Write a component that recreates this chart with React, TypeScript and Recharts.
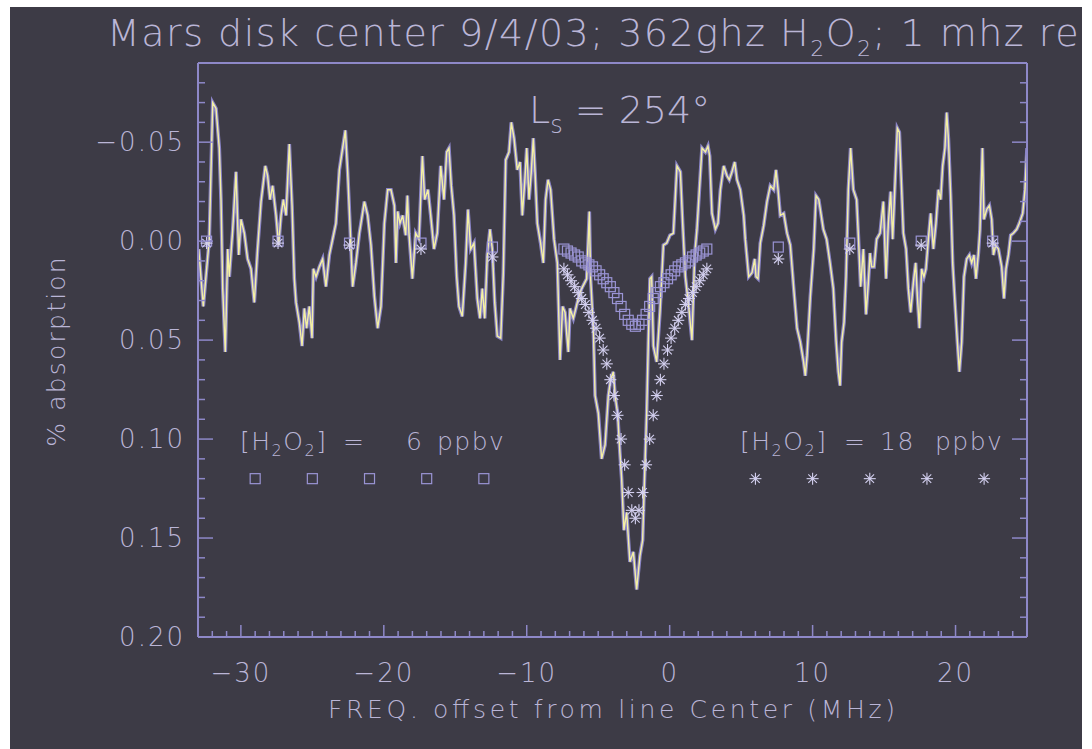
import React from "react";
import { ComposedChart, Line, Scatter, XAxis, YAxis } from "recharts";

const BG = "#3d3b46";
const AXIS = "#8e88c8";
const TEXT = "#bab5d6";
const YELLOW = "#f4f0a4";
const HALO = "#8a84c6";
const MARK = "#9a94d4";
const STAR = "#d4d0f0";
const FONT = "'DejaVu Sans', sans-serif";

// observed spectrum: frequency offset (MHz) and % absorption
const specFreq = [
  -32.95, -32.63, -32.21, -31.97, -31.74, -31.51, -31.39, -31.27, -31.09, -30.92,
  -30.81, -30.57, -30.34, -30.15, -29.99, -29.76, -29.53, -29.29, -29.06, -28.83,
  -28.59, -28.29, -28.13, -27.96, -27.78, -27.54, -27.36, -27.19, -27.03, -26.84,
  -26.61, -26.42, -26.26, -26.14, -25.91, -25.72, -25.56, -25.4, -25.21, -25.02,
  -24.93, -24.74, -24.51, -24.28, -24.05, -23.81, -23.58, -23.35, -23.11, -22.88,
  -22.69, -22.53, -22.37, -22.18, -21.95, -21.71, -21.36, -21.13, -20.9, -20.66,
  -20.43, -20.2, -19.96, -19.73, -19.5, -19.26, -19.15, -19.03, -18.87, -18.68,
  -18.47, -18.35, -18.24, -18.0, -17.77, -17.54, -17.3, -17.14, -16.91, -16.72,
  -16.49, -16.26, -16.02, -15.79, -15.6, -15.44, -15.28, -15.09, -14.9, -14.74,
  -14.51, -14.27, -14.11, -13.92, -13.69, -13.46, -13.27, -13.11, -12.94, -12.76,
  -12.57, -12.41, -12.24, -12.06, -11.82, -11.64, -11.47, -11.24, -11.08, -10.89,
  -10.66, -10.47, -10.31, -10.14, -10.0, -9.84, -9.68, -9.54, -9.42, -9.26,
  -9.03, -8.84, -8.68, -8.51, -8.33, -8.09, -7.86, -7.67, -7.49, -7.32,
  -7.21, -7.09, -6.97, -6.74, -6.39, -6.16, -5.81, -5.62, -5.53, -5.34,
  -5.22, -4.99, -4.76, -4.52, -4.29, -4.13, -3.94, -3.82, -3.64, -3.48,
  -3.36, -3.2, -3.01, -2.78, -2.54, -2.31, -2.08, -1.89, -1.8, -1.61,
  -1.49, -1.38, -1.26, -1.14, -0.91, -0.68, -0.44, -0.21, 0.02, 0.26,
  0.51, 0.75, 0.91, 1.1, 1.33, 1.56, 1.75, 1.91, 2.08, 2.26,
  2.5, 2.68, 2.8, 2.96, 3.2, 3.38, 3.55, 3.78, 4.01, 4.17,
  4.36, 4.55, 4.71, 4.94, 5.18, 5.29, 5.53, 5.76, 5.95, 6.04,
  6.18, 6.34, 6.58, 6.81, 7.04, 7.28, 7.44, 7.58, 7.74, 7.98,
  8.21, 8.44, 8.68, 8.91, 9.14, 9.37, 9.49, 9.61, 9.84, 10.08,
  10.24, 10.43, 10.75, 10.98, 11.22, 11.45, 11.64, 11.8, 11.92, 12.03,
  12.2, 12.34, 12.5, 12.66, 12.85, 13.08, 13.2, 13.36, 13.55, 13.74,
  13.9, 14.02, 14.13, 14.3, 14.48, 14.72, 14.95, 15.14, 15.3, 15.46,
  15.6, 15.93, 16.07, 16.23, 16.35, 16.54, 16.7, 16.86, 17.05, 17.21,
  17.33, 17.47, 17.63, 17.79, 17.93, 18.1, 18.26, 18.45, 18.63, 18.8,
  18.96, 19.1, 19.26, 19.38, 19.5, 19.66, 19.8, 19.96, 20.13, 20.27,
  20.43, 20.59, 20.78, 20.97, 21.13, 21.29, 21.43, 21.6, 21.71, 21.88,
  21.99, 22.18, 22.37, 22.53, 22.65, 22.81, 23.0, 23.23, 23.39, 23.53,
  23.7, 23.86, 24.04, 24.28, 24.46, 24.7, 24.86, 25.0,
];
const specAbs = [
  0.004, 0.033, -0.001, -0.07, -0.067, -0.047, -0.021, 0.024, 0.056, 0.004,
  0.018, -0.006, -0.035, 0.007, -0.011, -0.004, 0.009, 0.014, 0.031, 0.004,
  -0.02, -0.038, -0.033, -0.021, -0.028, -0.013, 0.002, -0.013, -0.021, -0.013,
  -0.049, -0.018, 0.019, 0.031, 0.041, 0.053, 0.034, 0.044, 0.033, 0.049,
  0.014, 0.018, 0.013, 0.009, 0.023, 0.007, -0.001, -0.009, -0.036, -0.047,
  -0.056, -0.035, -0.009, 0.023, 0.011, -0.004, -0.02, -0.013, 0.002, 0.028,
  0.044, 0.033, -0.009, -0.026, -0.026, -0.018, 0.011, -0.015, -0.009, -0.013,
  -0.003, -0.023, -0.004, 0.019, -0.004, -0.001, -0.043, -0.021, -0.026, -0.013,
  0.004, -0.004, -0.038, -0.021, -0.045, -0.047, -0.028, -0.013, 0.018, 0.033,
  0.038, 0.011, -0.016, 0.004, 0.001, 0.029, 0.039, 0.024, 0.039, 0.007,
  -0.006, 0.004, 0.031, 0.048, 0.049, 0.016, -0.041, -0.045, -0.06, -0.052,
  -0.036, -0.04, -0.013, -0.03, -0.047, -0.021, -0.035, -0.052, -0.035, -0.009,
  0.001, 0.011, -0.021, -0.031, -0.026, -0.001, 0.011, 0.06, 0.033, 0.036,
  0.046, 0.056, 0.034, 0.039, 0.029, 0.024, 0.019, -0.015, 0.019, 0.044,
  0.078, 0.087, 0.11, 0.103, 0.078, 0.07, 0.066, 0.078, 0.087, 0.107,
  0.12, 0.146, 0.137, 0.162, 0.157, 0.176, 0.159, 0.151, 0.129, 0.087,
  0.05, 0.019, 0.018, 0.053, 0.061, 0.036, 0.002, 0.001, -0.003, -0.004,
  -0.038, -0.035, -0.009, 0.018, 0.033, 0.05, 0.007, -0.006, -0.026, -0.047,
  -0.045, -0.048, -0.043, -0.014, -0.006, -0.009, -0.026, -0.038, -0.033, -0.031,
  -0.035, -0.04, -0.031, -0.026, -0.013, -0.001, 0.018, 0.016, 0.009, 0.018,
  0.019, 0.001, -0.008, -0.02, -0.028, -0.026, -0.036, -0.026, -0.013, -0.014,
  -0.004, 0.002, 0.024, 0.044, 0.051, 0.061, 0.068, 0.058, 0.028, 0.004,
  -0.023, -0.021, -0.006, -0.001, 0.011, 0.024, 0.05, 0.066, 0.073, 0.051,
  0.041, 0.018, -0.026, -0.047, -0.026, -0.021, -0.003, 0.023, 0.004, 0.037,
  0.021, 0.006, 0.013, 0.013, -0.001, -0.004, -0.02, 0.019, -0.009, -0.025,
  -0.001, -0.057, -0.055, -0.026, -0.004, 0.004, 0.024, 0.036, 0.021, 0.011,
  0.028, 0.044, 0.014, 0.018, 0.014, -0.001, -0.014, 0.004, -0.009, -0.026,
  -0.021, -0.038, -0.047, -0.065, -0.052, -0.023, 0.011, 0.031, 0.051, 0.066,
  0.051, 0.018, 0.009, 0.007, 0.011, 0.007, 0.019, 0.006, -0.006, -0.047,
  -0.011, -0.016, -0.018, -0.011, 0.007, 0.002, 0.004, 0.013, 0.029, 0.014,
  0.007, -0.003, -0.004, -0.006, -0.009, -0.014, -0.026, -0.047,
];

// model line profiles (grid shared by both abundances)
const modelFreq = [
  -32.4, -27.4, -22.4, -17.4, -12.4,
  -7.4, -7.15, -6.9, -6.65, -6.4, -6.15, -5.9, -5.65, -5.4, -5.15,
  -4.9, -4.65, -4.4, -4.15, -3.9, -3.65, -3.4, -3.15, -2.9, -2.65,
  -2.4,
  -2.15, -1.9, -1.65, -1.4, -1.15, -0.9, -0.65, -0.4, -0.15, 0.1,
  0.35, 0.6, 0.85, 1.1, 1.35, 1.6, 1.85, 2.1, 2.35, 2.6,
  7.6, 12.6, 17.6, 22.6,
];
const model18Abs = [
  0.001, 0.001, 0.002, 0.004, 0.008,
  0.014, 0.017, 0.02, 0.023, 0.026, 0.029, 0.032, 0.036, 0.04, 0.044,
  0.049, 0.055, 0.062, 0.07, 0.078, 0.088, 0.1, 0.113, 0.127, 0.136,
  0.14,
  0.136, 0.127, 0.113, 0.1, 0.088, 0.078, 0.07, 0.062, 0.055, 0.049,
  0.044, 0.04, 0.036, 0.032, 0.029, 0.026, 0.023, 0.02, 0.017, 0.014,
  0.009, 0.004, 0.002, 0.001,
];
const model6Abs = [
  0.0, 0.0, 0.001, 0.001, 0.003,
  0.004, 0.005, 0.006, 0.007, 0.008, 0.01, 0.011, 0.012, 0.013, 0.015,
  0.017, 0.019, 0.021, 0.023, 0.026, 0.029, 0.033, 0.037, 0.04, 0.042,
  0.043,
  0.042, 0.04, 0.037, 0.033, 0.029, 0.026, 0.023, 0.021, 0.019, 0.017,
  0.015, 0.013, 0.012, 0.011, 0.01, 0.008, 0.007, 0.006, 0.005, 0.004,
  0.003, 0.001, 0.0, 0.0,
];

// key symbols drawn in the plot under the legend text
const key6Freq = [-29, -25, -21, -17, -13];
const key18Freq = [6, 10, 14, 18, 22];
const keyLevel = 0.12;

const xTicks = [
  -32, -31, -30, -29, -28, -27, -26, -25, -24, -23, -22, -21, -20, -19, -18, -17,
  -16, -15, -14, -13, -12, -11, -10, -9, -8, -7, -6, -5, -4, -3, -2, -1, 0,
  1, 2, 3, 4, 5, 6, 7, 8, 9, 10, 11, 12, 13, 14, 15, 16, 17, 18, 19, 20,
  21, 22, 23, 24,
];
const xLabelTicks = [-30, -20, -10, 0, 10, 20];
const yTicks = [
  -0.08, -0.07, -0.06, -0.05, -0.04, -0.03, -0.02, -0.01, 0, 0.01, 0.02, 0.03,
  0.04, 0.05, 0.06, 0.07, 0.08, 0.09, 0.1, 0.11, 0.12, 0.13, 0.14, 0.15, 0.16,
  0.17, 0.18, 0.19, 0.2,
];
const yLabelTicks = [-0.05, 0, 0.05, 0.1, 0.15, 0.2];

const spectrum = specFreq.map((f, i) => ({ f, v: specAbs[i] }));
const model18 = modelFreq.map((f, i) => ({ f, v: model18Abs[i] }));
const model6 = modelFreq.map((f, i) => ({ f, v: model6Abs[i] }));
const key6 = key6Freq.map((f) => ({ f, v: keyLevel }));
const key18 = key18Freq.map((f) => ({ f, v: keyLevel }));

const W = 1072;
const H = 742;

const isMajorX = (v: number) => xLabelTicks.includes(v);
const isMajorY = (v: number) => yLabelTicks.some((t) => Math.abs(t - v) < 1e-9);
const minus = (v: number) => (v < 0 ? "\u2212" : "");

const tickText = {
  fill: TEXT,
  fontFamily: FONT,
  fontSize: 26,
  fontWeight: 200,
  letterSpacing: 2,
} as const;

function BottomTick({ x, y, payload }: any) {
  const major = isMajorX(payload.value);
  return (
    <g>
      <line x1={x} x2={x} y1={y} y2={y - (major ? 12 : 6)} stroke={AXIS} strokeWidth={1.5} />
      {major && (
        <text x={x} y={y + 45} textAnchor="middle" {...tickText}>
          {minus(payload.value) + Math.abs(payload.value)}
        </text>
      )}
    </g>
  );
}

function TopTick({ x, y, payload }: any) {
  const major = isMajorX(payload.value);
  return <line x1={x} x2={x} y1={y} y2={y + (major ? 12 : 6)} stroke={AXIS} strokeWidth={1.5} />;
}

function LeftTick({ x, y, payload }: any) {
  const major = isMajorY(payload.value);
  return (
    <g>
      <line x1={x} x2={x + (major ? 15 : 7)} y1={y} y2={y} stroke={AXIS} strokeWidth={1.5} />
      {major && (
        <text x={x - 13} y={y + 9} textAnchor="end" {...tickText}>
          {minus(payload.value) + Math.abs(payload.value).toFixed(2)}
        </text>
      )}
    </g>
  );
}

function RightTick({ x, y, payload }: any) {
  const major = isMajorY(payload.value);
  return <line x1={x} x2={x - (major ? 15 : 7)} y1={y} y2={y} stroke={AXIS} strokeWidth={1.5} />;
}

function Square({ cx, cy }: any) {
  return <rect x={cx - 5} y={cy - 5} width={10} height={10} fill="none" stroke={MARK} strokeWidth={1.2} />;
}

function Asterisk({ cx, cy }: any) {
  const r = 6;
  const d = 4.3;
  return (
    <g stroke={STAR} strokeWidth={1.1}>
      <line x1={cx - r} x2={cx + r} y1={cy} y2={cy} />
      <line x1={cx} x2={cx} y1={cy - r} y2={cy + r} />
      <line x1={cx - d} x2={cx + d} y1={cy - d} y2={cy + d} />
      <line x1={cx - d} x2={cx + d} y1={cy + d} y2={cy - d} />
    </g>
  );
}

const label = { fill: TEXT, fontFamily: FONT, fontWeight: 200 } as const;

function KeyLabel({ x, eqX, numX, num, unitX }: any) {
  return (
    <text y={443} fontSize={25} letterSpacing={1.5} {...label}>
      <tspan x={x}>[H</tspan>
      <tspan fontSize={16} dy={6}>2</tspan>
      <tspan dy={-6}>O</tspan>
      <tspan fontSize={16} dy={6}>2</tspan>
      <tspan dy={-6}>]</tspan>
      <tspan x={eqX}>=</tspan>
      <tspan x={numX}>{num}</tspan>
      <tspan x={unitX}>ppbv</tspan>
    </text>
  );
}

export default function App() {
  return (
    <div
      style={{
        position: "absolute",
        left: 10,
        top: 7,
        width: W,
        height: H,
        background: BG,
        overflow: "hidden",
      }}
    >
      <ComposedChart
        width={W}
        height={H}
        margin={{ top: 26, right: 5, bottom: 82, left: 128 }}
      >
        <XAxis
          dataKey="f"
          type="number"
          domain={[-33, 25]}
          allowDataOverflow
          ticks={xTicks}
          interval={0}
          height={30}
          tickSize={0}
          tickMargin={0}
          tickLine={false}
          tick={BottomTick}
          axisLine={{ stroke: AXIS, strokeWidth: 2 }}
        />
        <XAxis
          xAxisId="top"
          orientation="top"
          type="number"
          domain={[-33, 25]}
          allowDataOverflow
          ticks={xTicks}
          interval={0}
          height={30}
          tickSize={0}
          tickMargin={0}
          tickLine={false}
          tick={TopTick}
          axisLine={{ stroke: AXIS, strokeWidth: 2 }}
        />
        <YAxis
          dataKey="v"
          type="number"
          reversed
          domain={[-0.09, 0.2]}
          allowDataOverflow
          ticks={yTicks}
          interval={0}
          width={60}
          tickSize={0}
          tickMargin={0}
          tickLine={false}
          tick={LeftTick}
          axisLine={{ stroke: AXIS, strokeWidth: 2 }}
        />
        <YAxis
          yAxisId="right"
          orientation="right"
          type="number"
          reversed
          domain={[-0.09, 0.2]}
          allowDataOverflow
          ticks={yTicks}
          interval={0}
          width={50}
          tickSize={0}
          tickMargin={0}
          tickLine={false}
          tick={RightTick}
          axisLine={{ stroke: AXIS, strokeWidth: 2 }}
        />
        <Line
          data={spectrum}
          dataKey="v"
          type="linear"
          stroke={HALO}
          strokeWidth={3.6}
          dot={false}
          isAnimationActive={false}
        />
        <Line
          data={spectrum}
          dataKey="v"
          type="linear"
          stroke={YELLOW}
          strokeWidth={1.4}
          dot={false}
          isAnimationActive={false}
        />
        <Scatter data={model6} shape={Square} isAnimationActive={false} />
        <Scatter data={model18} shape={Asterisk} isAnimationActive={false} />
        <Scatter data={key6} shape={Square} isAnimationActive={false} />
        <Scatter data={key18} shape={Asterisk} isAnimationActive={false} />
      </ComposedChart>

      <svg
        width={W}
        height={H}
        style={{ position: "absolute", left: 0, top: 0, pointerEvents: "none" }}
      >
        <text x={97} y={39} fontSize={38} letterSpacing={1.5} {...label}>
          Mars disk center 9/4/03; 362ghz H
          <tspan fontSize={22} dy={10}>2</tspan>
          <tspan dy={-10}>O</tspan>
          <tspan fontSize={22} dy={10}>2</tspan>
          <tspan dy={-10}>; 1 mhz res</tspan>
        </text>
        <text x={519} y={116} fontSize={38} {...label}>
          L<tspan fontSize={24} dy={10}>s</tspan>
          <tspan dy={-10}> = 254°</tspan>
        </text>
        <KeyLabel x={230} eqX={333} numX={396} num="6" unitX={427} />
        <KeyLabel x={730} eqX={834} numX={870} num="18" unitX={925} />
        <text x={318} y={711} fontSize={25} textLength={567} lengthAdjust="spacing" {...label}>
          FREQ. offset from line Center (MHz)
        </text>
        <text
          x={0}
          y={0}
          fontSize={25}
          textAnchor="middle"
          letterSpacing={2.2}
          transform="translate(55 344) rotate(-90)"
          {...label}
        >
          % absorption
        </text>
      </svg>
    </div>
  );
}
